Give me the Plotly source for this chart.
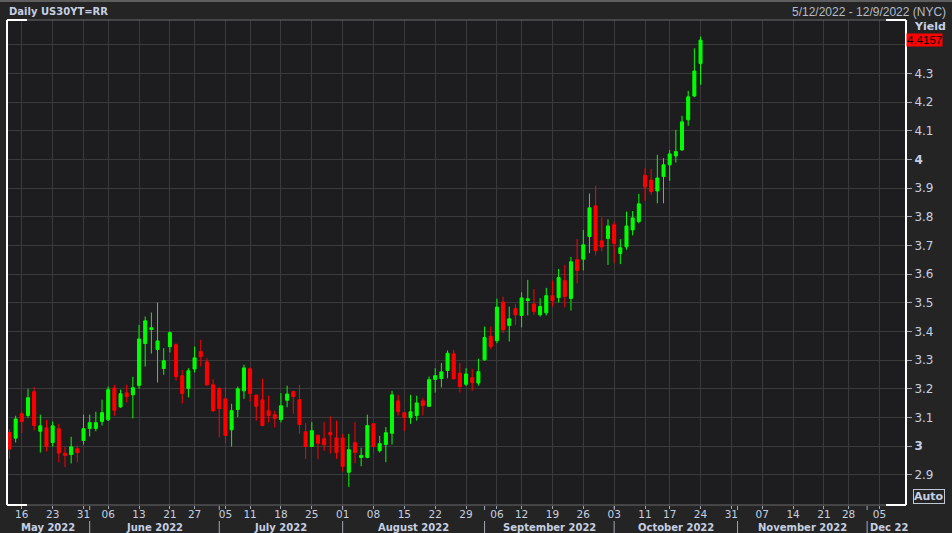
import plotly.graph_objects as go
import pandas as pd

# ---------------- data ----------------
holidays = ["2022-05-30", "2022-06-20", "2022-07-04", "2022-09-05", "2022-10-10", "2022-11-24"]
calendar_start = "2022-05-12"
calendar_end = "2022-12-09"

opens = [3.048, 3.028, 3.113, 3.107, 3.190, 3.052, 3.064, 3.013, 3.061, 2.975, 2.971, 2.991,
         3.020, 3.062, 3.062, 3.086, 3.092, 3.203, 3.137, 3.186, 3.179, 3.212, 3.358, 3.407,
         3.337, 3.271, 3.347, 3.354, 3.246, 3.201, 3.269, 3.330, 3.294, 3.214, 3.201, 3.165,
         3.057, 3.128, 3.193, 3.270, 3.178, 3.162, 3.124, 3.110, 3.093, 3.160, 3.190, 3.162,
         3.050, 2.999, 3.038, 3.026, 3.048, 3.029, 3.029, 2.909, 3.012, 2.961, 2.961, 3.078,
         2.984, 3.006, 3.045, 3.158, 3.117, 3.100, 3.107, 3.158, 3.139, 3.233, 3.236, 3.264,
         3.322, 3.255, 3.216, 3.239, 3.220, 3.301, 3.383, 3.368, 3.503, 3.421, 3.479, 3.456,
         3.508, 3.496, 3.458, 3.465, 3.525, 3.518, 3.577, 3.515, 3.650, 3.652, 3.731, 3.838,
         3.716, 3.724, 3.772, 3.672, 3.695, 3.754, 3.783, 3.944, 3.928, 3.890, 3.940, 3.981,
         4.012, 4.033, 4.138, 4.221, 4.334]
highs = [3.060, 3.106, 3.121, 3.200, 3.206, 3.110, 3.092, 3.086, 3.078, 2.997, 3.033, 3.003,
         3.110, 3.110, 3.120, 3.162, 3.208, 3.214, 3.197, 3.214, 3.242, 3.423, 3.452, 3.466,
         3.501, 3.342, 3.400, 3.358, 3.266, 3.272, 3.347, 3.371, 3.307, 3.234, 3.206, 3.206,
         3.148, 3.208, 3.284, 3.275, 3.180, 3.235, 3.176, 3.124, 3.185, 3.211, 3.194, 3.214,
         3.081, 3.084, 3.040, 3.084, 3.104, 3.089, 3.043, 3.043, 3.084, 2.995, 3.110, 3.080,
         3.036, 3.067, 3.193, 3.179, 3.119, 3.179, 3.176, 3.168, 3.243, 3.272, 3.290, 3.334,
         3.336, 3.290, 3.272, 3.269, 3.305, 3.417, 3.417, 3.514, 3.522, 3.487, 3.496, 3.537,
         3.580, 3.548, 3.516, 3.552, 3.577, 3.618, 3.632, 3.660, 3.723, 3.754, 3.881, 3.908,
         3.798, 3.791, 3.783, 3.722, 3.818, 3.820, 3.880, 3.969, 3.966, 4.016, 4.004, 4.033,
         4.103, 4.152, 4.239, 4.387, 4.428]
lows = [2.956, 3.013, 3.046, 3.099, 3.055, 2.978, 2.982, 2.999, 2.944, 2.927, 2.940, 2.944,
        3.006, 3.034, 3.052, 3.072, 3.088, 3.106, 3.134, 3.153, 3.097, 3.200, 3.278, 3.323,
        3.222, 3.249, 3.327, 3.229, 3.149, 3.170, 3.257, 3.278, 3.211, 3.119, 3.031, 3.011,
        2.999, 3.101, 3.165, 3.156, 3.089, 3.070, 3.083, 3.065, 3.083, 3.136, 3.113, 3.043,
        2.955, 2.997, 2.955, 2.984, 2.974, 2.956, 2.912, 2.858, 2.941, 2.930, 2.958, 2.975,
        2.978, 2.944, 3.006, 3.107, 3.054, 3.078, 3.089, 3.107, 3.137, 3.187, 3.205, 3.237,
        3.233, 3.187, 3.210, 3.193, 3.211, 3.298, 3.338, 3.359, 3.394, 3.365, 3.423, 3.414,
        3.456, 3.458, 3.452, 3.456, 3.487, 3.501, 3.484, 3.473, 3.568, 3.613, 3.673, 3.665,
        3.679, 3.632, 3.638, 3.635, 3.685, 3.735, 3.777, 3.855, 3.877, 3.847, 3.847, 3.925,
        3.989, 4.030, 4.117, 4.217, 4.260]
closes = [2.990, 3.095, 3.086, 3.169, 3.072, 3.071, 2.999, 3.071, 2.976, 2.968, 2.998, 2.978,
          3.061, 3.082, 3.082, 3.117, 3.197, 3.125, 3.183, 3.173, 3.204, 3.374, 3.437, 3.413,
          3.367, 3.298, 3.396, 3.243, 3.184, 3.263, 3.308, 3.312, 3.214, 3.124, 3.131, 3.038,
          3.124, 3.200, 3.273, 3.184, 3.139, 3.072, 3.107, 3.097, 3.141, 3.182, 3.173, 3.076,
          2.999, 3.054, 3.010, 3.005, 3.040, 2.978, 2.930, 2.988, 2.978, 2.968, 3.072, 2.999,
          3.009, 3.047, 3.179, 3.121, 3.100, 3.120, 3.151, 3.142, 3.232, 3.246, 3.259, 3.324,
          3.235, 3.208, 3.252, 3.222, 3.260, 3.379, 3.347, 3.485, 3.406, 3.444, 3.458, 3.517,
          3.514, 3.470, 3.487, 3.525, 3.508, 3.588, 3.522, 3.643, 3.613, 3.702, 3.831, 3.682,
          3.695, 3.768, 3.707, 3.692, 3.768, 3.796, 3.845, 3.904, 3.888, 3.935, 3.981, 4.019,
          4.027, 4.131, 4.218, 4.308, 4.4157]

x_tick_dates = ["2022-05-16", "2022-05-23", "2022-05-31", "2022-06-06", "2022-06-13", "2022-06-21",
                "2022-06-27", "2022-07-05", "2022-07-11", "2022-07-18", "2022-07-25", "2022-08-01",
                "2022-08-08", "2022-08-15", "2022-08-22", "2022-08-29", "2022-09-06", "2022-09-12",
                "2022-09-19", "2022-09-26", "2022-10-03", "2022-10-11", "2022-10-17", "2022-10-24",
                "2022-10-31", "2022-11-07", "2022-11-14", "2022-11-21", "2022-11-28", "2022-12-05"]
x_tick_labels = [d[-2:] for d in x_tick_dates]
month_labels = ["May 2022", "June 2022", "July 2022", "August 2022", "September 2022",
                "October 2022", "November 2022", "Dec 22"]
y_tick_vals = [2.9, 3.0, 3.1, 3.2, 3.3, 3.4, 3.5, 3.6, 3.7, 3.8, 3.9, 4.0, 4.1, 4.2, 4.3, 4.4]
# 4.4 sits under the red last-value box in the reference
y_tick_labels = ["2.9", "<b>3</b>", "3.1", "3.2", "3.3", "3.4", "3.5", "3.6", "3.7", "3.8",
                 "3.9", "<b>4</b>", "4.1", "4.2", "4.3", ""]

# ---------------- calendar (trading days) ----------------
days = pd.bdate_range(calendar_start, calendar_end)
days = [d for d in days if d.strftime("%Y-%m-%d") not in holidays]
categories = [d.strftime("%Y-%m-%d") for d in days]
dates = categories[:len(closes)]

X0, X1 = -0.4, len(categories) - 1 + 0.3

FONT = "DejaVu Sans"
TXT = "#c6d0e2"
GRID = "#3a3a3b"
PW, PH = 899, 485

fig = go.Figure(go.Candlestick(
    x=dates, open=opens, high=highs, low=lows, close=closes,
    increasing=dict(line=dict(color="#00ff00", width=1), fillcolor="#00ff00"),
    decreasing=dict(line=dict(color="#ff0000", width=1), fillcolor="#ff0000"),
    whiskerwidth=0, hoverinfo="skip", showlegend=False,
))

# month separators and centred month labels
shapes = []
annotations = []
month_keys = [d.strftime("%Y-%m") for d in days]
starts = [i for i in range(len(month_keys)) if i == 0 or month_keys[i] != month_keys[i - 1]]
bounds = starts + [len(month_keys)]
for k, label in enumerate(month_labels):
    a = max(bounds[k] if k > 0 else X0, X0)
    b = min(bounds[k + 1], X1)
    last = k == len(month_labels) - 1
    annotations.append(dict(x=a + 0.2 if last else (a + b) / 2,
                            xanchor="left" if last else "center",
                            xref="x", yref="paper", y=-22 / PH, yanchor="middle",
                            text="<b>%s</b>" % label, showarrow=False,
                            font=dict(family=FONT, size=10, color=TXT)))
for s in starts[1:]:
    shapes.append(dict(type="line", xref="x", yref="paper", x0=s, x1=s, y0=-1 / PH, y1=-5 / PH,
                       line=dict(color="#a0a8b8", width=1)))
    shapes.append(dict(type="line", xref="x", yref="paper", x0=s, x1=s, y0=-16 / PH, y1=-30 / PH,
                       line=dict(color="#a0a8b8", width=1)))

# frame: white sides, grey top/bottom with white corner brackets
cw = 20 / PW
shapes += [
    dict(type="line", xref="paper", yref="paper", x0=0, x1=1, y0=1, y1=1, line=dict(color="#6a6a6a", width=1)),
    dict(type="line", xref="paper", yref="paper", x0=0, x1=1, y0=0, y1=0, line=dict(color="#6a6a6a", width=1)),
    dict(type="line", xref="paper", yref="paper", x0=0, x1=0, y0=0, y1=1, line=dict(color="#ffffff", width=2)),
    dict(type="line", xref="paper", yref="paper", x0=1, x1=1, y0=0, y1=1, line=dict(color="#ffffff", width=2)),
    dict(type="line", xref="paper", yref="paper", x0=0, x1=cw, y0=1, y1=1, line=dict(color="#ffffff", width=2)),
    dict(type="line", xref="paper", yref="paper", x0=1 - cw, x1=1, y0=1, y1=1, line=dict(color="#ffffff", width=2)),
    dict(type="line", xref="paper", yref="paper", x0=0, x1=cw, y0=0, y1=0, line=dict(color="#ffffff", width=2)),
    dict(type="line", xref="paper", yref="paper", x0=1 - cw, x1=1, y0=0, y1=0, line=dict(color="#ffffff", width=2)),
    dict(type="rect", xref="paper", yref="paper", x0=-0.01, x1=1.06, y0=1 + 18 / PH, y1=1 + 21 / PH,
         fillcolor="#5e5e5e", line=dict(width=0)),
]

annotations += [
    dict(xref="paper", yref="paper", x=0, y=1 + 9 / PH, xanchor="left", yanchor="middle",
         text="<b>Daily US30YT=RR</b>", showarrow=False, font=dict(family=FONT, size=10, color=TXT)),
    dict(xref="paper", yref="paper", x=1 + 42 / PW, y=1 + 8 / PH, xanchor="right", yanchor="middle",
         text="5/12/2022 - 12/9/2022 (NYC)", showarrow=False,
         font=dict(family="Liberation Sans", size=12, color="#b4bccb")),
    dict(xref="paper", yref="paper", x=1, xshift=6, y=1, yshift=2, yanchor="top", xanchor="left",
         text="<b>Yield</b>", showarrow=False, font=dict(family=FONT, size=11, color=TXT)),
    dict(xref="paper", yref="y", x=1, xshift=0, y=closes[-1], xanchor="left", yanchor="middle",
         text="%.4f" % closes[-1], showarrow=False, bgcolor="#ff0000", borderpad=0,
         font=dict(family="Liberation Sans", size=11.5, color="#000000")),
    dict(xref="paper", yref="paper", x=1, xshift=7, y=0, yshift=1, xanchor="left", yanchor="bottom",
         text="<b>Auto</b>", showarrow=False, bordercolor="#c0c8d8", borderwidth=1, borderpad=0,
         font=dict(family=FONT, size=11, color=TXT)),
]

fig.update_layout(
    width=952, height=533,
    margin=dict(l=7, r=46, t=20, b=28),
    paper_bgcolor="#232423", plot_bgcolor="#1d1d20",
    shapes=shapes, annotations=annotations,
    showlegend=False,
    xaxis=dict(type="category", categoryorder="array", categoryarray=categories,
               range=[X0, X1], rangeslider=dict(visible=False),
               tickmode="array", tickvals=x_tick_dates, ticktext=x_tick_labels,
               ticks="outside", ticklen=3, tickcolor="#a0a8b8", ticklabelstandoff=-4,
               showgrid=True, gridcolor=GRID, gridwidth=1, zeroline=False, showline=False,
               tickfont=dict(family=FONT, size=10.5, color=TXT)),
    yaxis=dict(side="right", range=[2.795, 4.486],
               tickmode="array", tickvals=y_tick_vals, ticktext=y_tick_labels,
               ticks="outside", ticklen=5, tickcolor="#a0a8b8",
               showgrid=True, gridcolor=GRID, gridwidth=1, zeroline=False, showline=False,
               tickfont=dict(family=FONT, size=12, color=TXT)),
)

fig.write_html("out.html", config={"displayModeBar": False, "staticPlot": True},
               post_script="document.body.style.margin='0';document.body.style.overflow='hidden';"
                           "document.documentElement.style.background='#232423';")
